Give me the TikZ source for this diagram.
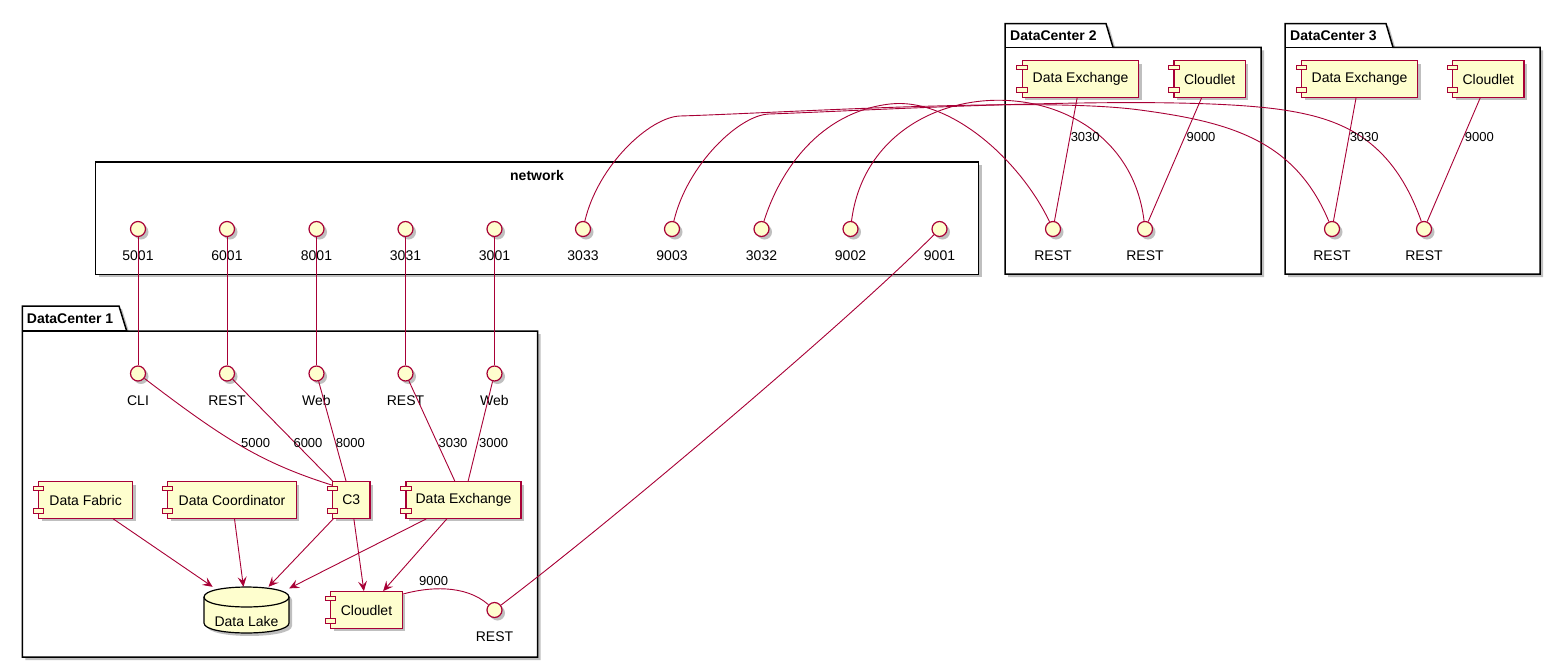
\documentclass[tikz,border=0pt]{standalone}
\usepackage{fontspec}
\setmainfont{Liberation Sans}
\usetikzlibrary{calc,shadows,arrows.meta}
\definecolor{pcol}{HTML}{A80036}
\definecolor{pfill}{HTML}{FEFECE}
\newcommand\cicons[1]{%
  \draw[cicon] ($(#1.north west)+(-4.9,5)$) rectangle ++(10.5,4.5);
  \draw[cicon] ($(#1.south west)+(-4.9,-10)$) rectangle ++(10.5,4.5);}
\begin{document}
\begin{tikzpicture}[x=1pt,y=-1pt,
  font=\fontsize{14}{16}\selectfont,
  shd/.style={drop shadow={shadow xshift=3pt,shadow yshift=-3pt,opacity=0.25,fill=black}},
  pkg/.style={draw=black,line width=1.5pt,fill=white,shd},
  ptitle/.style={font=\bfseries\fontsize{14}{16}\selectfont,inner sep=0pt,anchor=west},
  comp/.style={draw=pcol,fill=pfill,line width=1.2pt,inner sep=0pt,minimum height=36.6pt,shd},
  cicon/.style={draw=pcol,fill=pfill,line width=1pt},
  iface/.style={circle,draw=pcol,fill=pfill,line width=1.2pt,minimum size=15pt,inner sep=0pt,shd},
  ilbl/.style={inner sep=0pt,label distance=13.5pt},
  elbl/.style={font=\fontsize{13}{15}\selectfont,inner sep=0pt},
  conn/.style={draw=pcol,line width=0.9pt},
  arr/.style={conn,-{Stealth[length=10pt,width=9pt,inset=4pt]}}
]
\useasboundingbox (0,0) rectangle (1561,667);

% ---- packages ----
\path[pkg] (22.3,657) -- (22.3,306) -- (119,306) -- (126.7,331) -- (537.5,331) -- (537.5,657) -- cycle;
\draw[line width=1.5pt] (22.3,331) -- (126.7,331);
\node[ptitle] (t1) at (26.7,318.5) {DataCenter 1};

\path[pkg] (1005,274) -- (1005,23.5) -- (1106,23.5) -- (1113,47.3) -- (1261,47.3) -- (1261,274) -- cycle;
\draw[line width=1.5pt] (1005,47.3) -- (1113,47.3);
\node[ptitle] (t2) at (1010,35.5) {DataCenter 2};

\path[pkg] (1285,274) -- (1285,23.5) -- (1386,23.5) -- (1393,47.3) -- (1540,47.3) -- (1540,274) -- cycle;
\draw[line width=1.5pt] (1285,47.3) -- (1393,47.3);
\node[ptitle] (t3) at (1290,35.5) {DataCenter 3};

\path[pkg] (95.7,162) rectangle (978.6,274.3);
\node[ptitle,anchor=center] (tn) at (537,175) {network};

% ---- network interfaces ----
\foreach \x/\n in {138/5001,227/6001,316.5/8001,405.5/3031,494.5/3001,583/3033,672/9003,761.5/3032,850.5/9002,939.5/9001}
  \node[iface,label={[ilbl]below:\n}] (n\n) at (\x,229) {};

% ---- DataCenter 1 ----
\node[iface,label={[ilbl]below:CLI}] (cli) at (138,373.5) {};
\node[iface,label={[ilbl]below:REST}] (rest1) at (227,373.5) {};
\node[iface,label={[ilbl]below:Web}] (web1) at (316.5,373.5) {};
\node[iface,label={[ilbl]below:REST}] (rest2) at (405.5,373.5) {};
\node[iface,label={[ilbl]below:Web}] (web2) at (494.5,373.5) {};
\node[iface,label={[ilbl]below:REST}] (restb) at (494.5,610) {};

\node[comp,minimum width=94pt] (fabric) at (85.6,500) {Data Fabric};
\node[comp,minimum width=128.7pt] (coord) at (232,500) {Data Coordinator};
\node[comp,minimum width=37.5pt] (c3) at (351.25,500) {C3};
\node[comp,minimum width=115pt] (dx1) at (463.5,500) {Data Exchange};
\node[comp,minimum width=71.5pt] (cl1) at (366.5,610) {Cloudlet};
\cicons{fabric}\cicons{coord}\cicons{c3}\cicons{dx1}\cicons{cl1}

% Data Lake cylinder
\node[minimum width=85pt,minimum height=46pt,inner sep=0pt] (lake) at (246.5,610) {};
\path[draw=black,fill=pfill,line width=1.2pt,shd] (204,597) .. controls (204,583.7) and (289,583.7) .. (289,597)
  -- (289,623) .. controls (289,636.3) and (204,636.3) .. (204,623) -- cycle;
\draw[black,line width=1.2pt] (204,597) .. controls (204,610.3) and (289,610.3) .. (289,597);
\node[inner sep=0pt] (laketxt) at (246.5,621) {Data Lake};

% ---- DataCenter 2 / 3 ----
\node[comp,minimum width=116.3pt] (dx2) at (1080.6,79) {Data Exchange};
\node[comp,minimum width=71.4pt] (cl2) at (1209.7,79) {Cloudlet};
\node[comp,minimum width=116pt] (dx3) at (1359.5,79) {Data Exchange};
\node[comp,minimum width=71.4pt] (cl3) at (1488.3,79) {Cloudlet};
\cicons{dx2}\cicons{cl2}\cicons{dx3}\cicons{cl3}
\node[iface,label={[ilbl]below:REST}] (d2r1) at (1053,229) {};
\node[iface,label={[ilbl]below:REST}] (d2r2) at (1145,229) {};
\node[iface,label={[ilbl]below:REST}] (d3r1) at (1332,229) {};
\node[iface,label={[ilbl]below:REST}] (d3r2) at (1424,229) {};

% ---- connectors ----
\draw[conn] (n5001) -- (cli);
\draw[conn] (n6001) -- (rest1);
\draw[conn] (n8001) -- (web1);
\draw[conn] (n3031) -- (rest2);
\draw[conn] (n3001) -- (web2);

\draw[conn] (cli) .. controls (225,440) and (262,463) .. ($(c3.north west)+(0,4)$);
\draw[conn] (rest1) -- (c3);
\draw[conn] (web1) -- (c3);
\draw[conn] (rest2) -- (dx1);
\draw[conn] (web2) -- (dx1);

\draw[arr] (fabric) -- (lake);
\draw[arr] (coord) -- (lake);
\draw[arr] (c3) -- (lake);
\draw[arr] (dx1) -- (lake);
\draw[arr] (c3) -- (cl1);
\draw[arr] (dx1) -- (cl1);

\draw[conn] ($(cl1.north east)+(0,3)$) .. controls (428,587) and (465,584) .. (restb);
\draw[conn] (restb) .. controls (620,515) and (860,310) .. (n9001);

\draw[conn] (dx2) -- (d2r1);
\draw[conn] (cl2) -- (d2r2);
\draw[conn] (dx3) -- (d3r1);
\draw[conn] (cl3) -- (d3r2);

\draw[conn] (n3033) .. controls (598,165) and (650,117) .. (680,116)
  .. controls (780,113) and (1040,96.3) .. (1140,110)
  .. controls (1230,122) and (1295,140) .. (d3r1);
\draw[conn] (n9003) .. controls (687,165) and (739,115) .. (769,114)
  .. controls (869,110.7) and (1180,92) .. (1290,111)
  .. controls (1340,119.6) and (1392,138) .. (d3r2);
\draw[conn] (n3032) .. controls (780,170) and (820,112) .. (890,104)
  .. controls (950,97.1) and (1020,160) .. (d2r1);
\draw[conn] (n9002) .. controls (872,60) and (1125,60) .. (d2r2);

% ---- edge labels ----
\node[elbl] (l5000) at (255.6,442.7) {5000};
\node[elbl] (l6000) at (308,442.7) {6000};
\node[elbl] (l8000) at (350.4,442.7) {8000};
\node[elbl] (l3030a) at (453,442.7) {3030};
\node[elbl] (l3000) at (493.7,442.7) {3000};
\node[elbl] (l9000a) at (433.6,581) {9000};
\node[elbl] (l3030b) at (1085.2,136.7) {3030};
\node[elbl] (l9000b) at (1201,136.7) {9000};
\node[elbl] (l3030c) at (1364.2,136.7) {3030};
\node[elbl] (l9000c) at (1479.4,136.7) {9000};
\end{tikzpicture}
\end{document}
